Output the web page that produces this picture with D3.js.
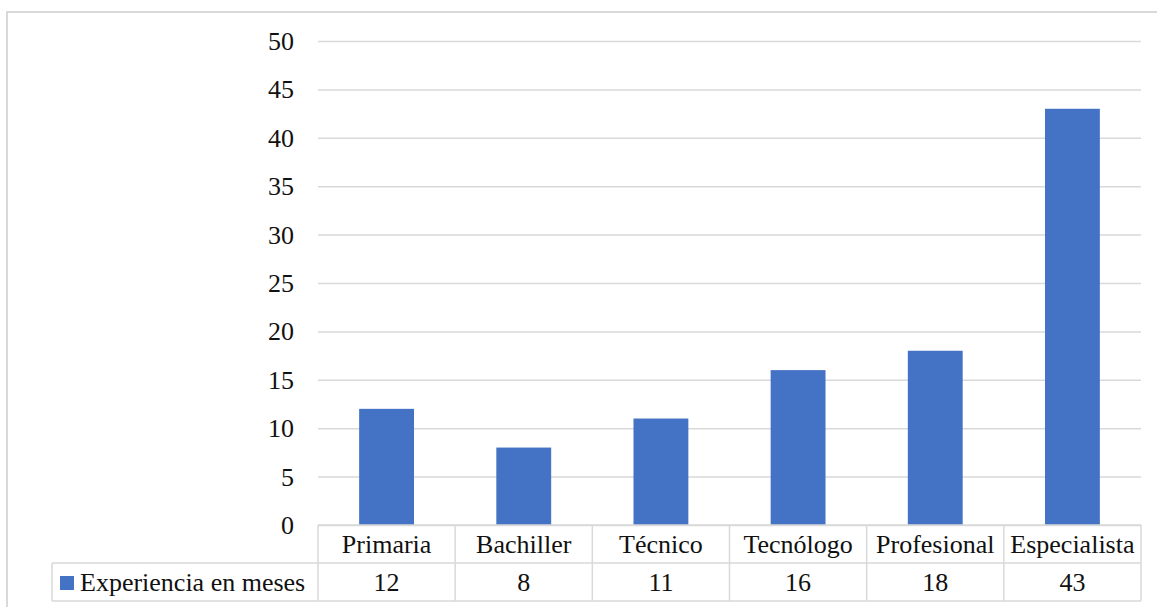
<!DOCTYPE html>
<html>
<head>
<meta charset="utf-8">
<script src="https://cdn.jsdelivr.net/npm/d3@7"></script>
<style>
  html, body { margin: 0; padding: 0; background: #fff; }
</style>
</head>
<body>
<div id="chart"></div>
<script>
const categories = ["Primaria", "Bachiller", "Técnico", "Tecnólogo", "Profesional", "Especialista"];
const values = [12, 8, 11, 16, 18, 43];
const seriesName = "Experiencia en meses";
const yTicks = [0, 5, 10, 15, 20, 25, 30, 35, 40, 45, 50];

const FONT = "'Liberation Serif', 'Times New Roman', Times, 'DejaVu Serif', serif";

const drawChart = () => {
  const width = 1157;
  const height = 607;
  const plot = { left: 318, right: 1141, top: 41, bottom: 525 };
  const rowH = 38;
  const gridColor = "#d9d9d9";

  const svg = d3.select("#chart")
    .append("svg")
    .attr("width", width)
    .attr("height", height)
    .attr("font-family", FONT);

  // chart border (runs off the right and bottom edge)
  svg.append("rect")
    .attr("x", 7)
    .attr("y", 12)
    .attr("width", 1170)
    .attr("height", 620)
    .attr("fill", "none")
    .attr("stroke", gridColor)
    .attr("stroke-width", 2);

  const x = d3.scaleBand()
    .domain(categories)
    .range([plot.left, plot.right]);

  const y = d3.scaleLinear()
    .domain([0, 50])
    .range([plot.bottom, plot.top]);

  // gridlines
  const grid = svg.append("g")
    .attr("transform", `translate(${plot.left},0)`)
    .call(d3.axisLeft(y)
      .tickValues(yTicks)
      .tickSize(-(plot.right - plot.left))
      .tickFormat(""));
  grid.select(".domain").remove();
  grid.selectAll("line")
    .attr("stroke", gridColor)
    .attr("stroke-width", 1.5);

  // y labels
  const yAxis = svg.append("g")
    .attr("transform", "translate(294,0)")
    .call(d3.axisLeft(y).tickValues(yTicks).tickSize(0).tickPadding(0));
  yAxis.attr("font-family", FONT).attr("font-size", 26);
  yAxis.select(".domain").remove();
  yAxis.selectAll("text")
    .attr("font-family", FONT)
    .attr("font-size", 26)
    .attr("dy", "0.33em")
    .attr("fill", "#111");

  // bars
  const barW = x.bandwidth() / 2.5;
  svg.append("g")
    .selectAll("rect")
    .data(values)
    .join("rect")
    .attr("x", (d, i) => x(categories[i]) + (x.bandwidth() - barW) / 2)
    .attr("y", d => y(d))
    .attr("width", barW)
    .attr("height", d => y(0) - y(d))
    .attr("fill", "#4472c4");

  // data table
  const table = svg.append("g")
    .attr("stroke", gridColor)
    .attr("stroke-width", 1.5);
  const r0 = plot.bottom, r1 = r0 + rowH, r2 = r1 + rowH;
  table.append("line").attr("x1", plot.left).attr("x2", plot.right).attr("y1", r0).attr("y2", r0);
  table.append("line").attr("x1", 52).attr("x2", plot.right).attr("y1", r1).attr("y2", r1);
  table.append("line").attr("x1", 52).attr("x2", plot.right).attr("y1", r2).attr("y2", r2);
  table.append("line").attr("x1", 52).attr("x2", 52).attr("y1", r1).attr("y2", r2);
  const edges = categories.map(c => x(c)).concat([plot.right]);
  table.selectAll(".vline")
    .data(edges)
    .join("line")
    .attr("class", "vline")
    .attr("x1", d => d).attr("x2", d => d)
    .attr("y1", r0).attr("y2", r2);

  svg.append("g")
    .selectAll("text")
    .data(categories)
    .join("text")
    .attr("x", d => x(d) + x.bandwidth() / 2)
    .attr("y", r0 + 28)
    .attr("text-anchor", "middle")
    .attr("font-size", 26)
    .attr("fill", "#111")
    .text(d => d);

  svg.append("g")
    .selectAll("text")
    .data(values)
    .join("text")
    .attr("x", (d, i) => x(categories[i]) + x.bandwidth() / 2)
    .attr("y", r1 + 28)
    .attr("text-anchor", "middle")
    .attr("font-size", 26)
    .attr("fill", "#111")
    .text(d => d);

  // legend key + series name
  svg.append("rect")
    .attr("x", 60)
    .attr("y", r1 + 13)
    .attr("width", 14)
    .attr("height", 14)
    .attr("fill", "#4472c4");
  svg.append("text")
    .attr("x", 80)
    .attr("y", r1 + 28)
    .attr("font-size", 26)
    .attr("fill", "#111")
    .text(seriesName);
};

drawChart();
</script>
</body>
</html>
